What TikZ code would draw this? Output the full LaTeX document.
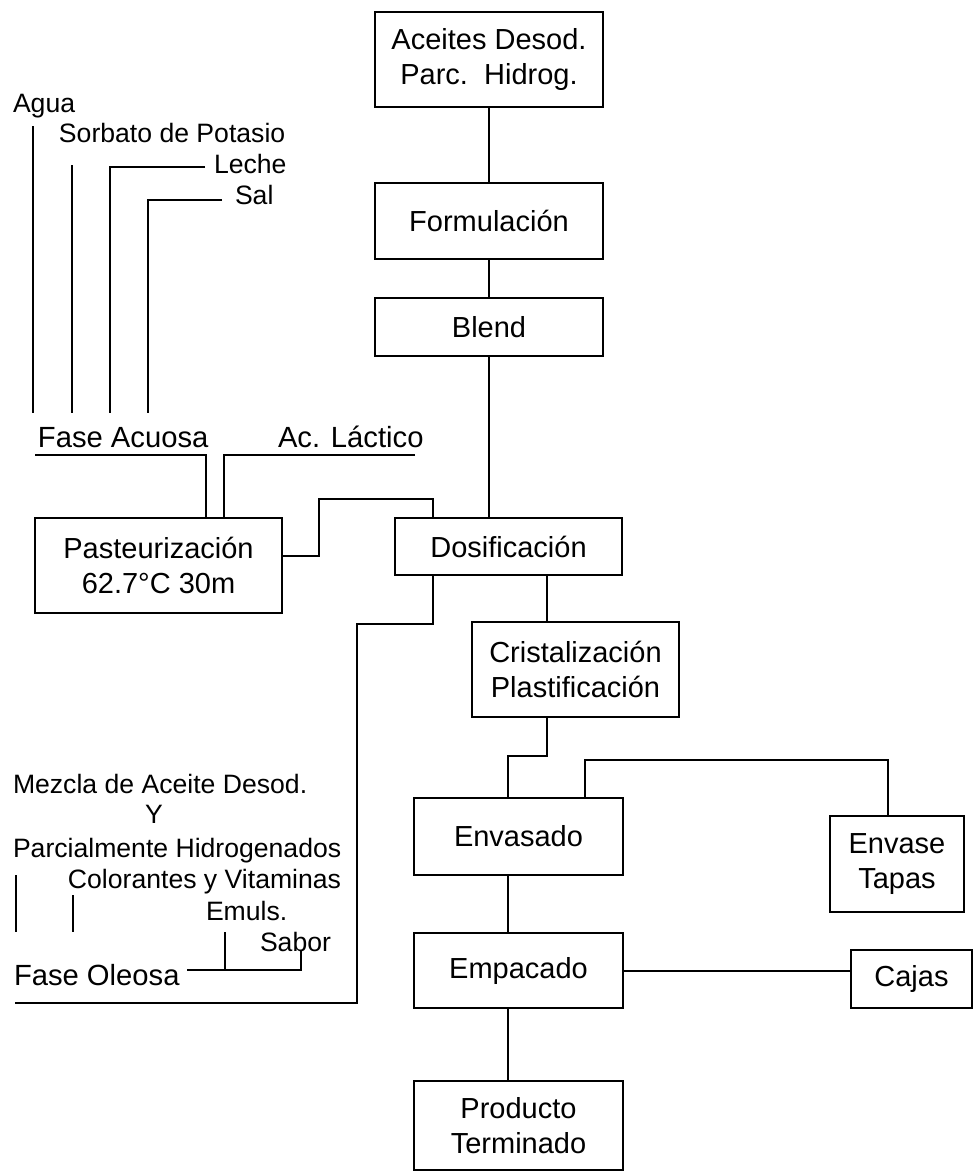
\documentclass[tikz,border=0pt]{standalone}
\usepackage{fontspec}
\setmainfont{Liberation Sans}
\usetikzlibrary{positioning,calc}

\begin{document}
\begin{tikzpicture}[
  x=0.5pt, y=-0.5pt,
  line width=1pt,
  box/.style={draw, line width=1pt, align=center, inner sep=0pt,
    font=\fontsize{14.5}{17.5}\selectfont},
  lbl/.style={anchor=base west, inner sep=0pt, font=\fontsize{13.3}{16}\selectfont},
  fase/.style={lbl, font=\fontsize{14.6}{17}\selectfont}
]
\useasboundingbox (0,0) rectangle (975,1175);

% main line
\node[box, minimum width=114pt, minimum height=47.5pt] (aceites) at (489,59.5) {Aceites Desod.\\Parc.~~Hidrog.};
\node[box, minimum width=114pt, minimum height=38pt] (formul) at (489,221) {Formulación};
\node[box, minimum width=114pt, minimum height=29pt] (blend) at (489,327) {Blend};
\node[box, minimum width=113.5pt, minimum height=28.5pt] (dosif) at (508.5,546.5) {Dosificación};
\node[box, minimum width=123.5pt, minimum height=47.5pt] (pasteur) at (158.5,565.5) {Pasteurización\\62.7°C 30m};
\node[box, minimum width=103.5pt, minimum height=47.5pt] (crist) at (575.5,669.5) {Cristalización\\Plastificación};
\node[box, minimum width=104.5pt, minimum height=38.5pt] (envas) at (518.5,836.5) {Envasado};
\node[box, minimum width=67pt, minimum height=48pt] (envtap) at (897,864) {Envase\\Tapas};
\node[box, minimum width=104.5pt, minimum height=37.5pt] (empac) at (518.5,970.5) {Empacado};
\node[box, minimum width=60.5pt, minimum height=29pt] (cajas) at (911.5,979) {Cajas};
\node[box, minimum width=104.5pt, minimum height=44.5pt] (prod) at (518.5,1125.5) {Producto\\Terminado};

% fase acuosa
\node[lbl] (agua) at (12,112) {Agua};
\node[lbl] (sorbato) at (58,142) {Sorbato de Potasio};
\node[lbl] (leche) at (213,173) {Leche};
\node[lbl] (sal) at (234,204) {Sal};
\node[fase] (faseac) at (37,447) {Fase Acuosa};
\node[fase] (lactico) at (277,447) {Ac. Láctico};
\coordinate (acstart) at (35,455);
\coordinate (lacstart) at (415,455);

% fase oleosa
\node[lbl] (mezcla) at (12,793) {Mezcla de Aceite Desod.};
\node[lbl] (yy) at (144,823) {Y};
\node[lbl] (parcial) at (12,857) {Parcialmente Hidrogenados};
\node[lbl] (color) at (67,888) {Colorantes y Vitaminas};
\node[lbl] (emuls) at (205,920) {Emuls.};
\node[lbl] (sabor) at (259,951) {Sabor};
\node[fase] (faseol) at (13,985) {Fase Oleosa};
\coordinate (oleoend) at (15,1003);

% inputs
\foreach \x/\y in {33/126, 72/165}
  \draw (\x,\y) -- (\x,413);
\draw (205,167) -| (110,413);
\draw (222,200) -| (148,413);
\draw (acstart) -| ([xshift=23.75pt]pasteur.north);
\draw (lacstart) -| ([xshift=32.75pt]pasteur.north);
\foreach \x/\y in {16/875, 73/895}
  \draw (\x,\y) -- (\x,932);
\draw (225,932) -- (225,970);
\draw (187,970) -| (301,950);

% connectors
\draw (aceites) -- (formul);
\draw (formul) -- (blend);
\draw (blend.south) -- (blend.south |- dosif.north);
\draw ([yshift=4.75pt]pasteur.east) -- ++(36,0) -- ++(0,-57) -| ([xshift=-37.75pt]dosif.north);
\draw ([xshift=-37.75pt]dosif.south) -- ++(0,48) -- ++(-76,0) |- (oleoend);
\draw ([xshift=19.25pt]dosif.south) -- ([xshift=19.25pt]dosif.south |- crist.north);
\draw ([xshift=-14.25pt]crist.south) -- ++(0,38) -| ([xshift=-5.25pt]envas.north);
\draw ([xshift=33.25pt]envas.north) -- ++(0,-37) -| ([xshift=-4.5pt]envtap.north);
\draw ([xshift=-5.25pt]envas.south) -- ([xshift=-5.25pt]empac.north);
\draw (empac.east) -- (empac.east -| cajas.west);
\draw ([xshift=-5.25pt]empac.south) -- ([xshift=-5.25pt]prod.north);
\end{tikzpicture}
\end{document}
